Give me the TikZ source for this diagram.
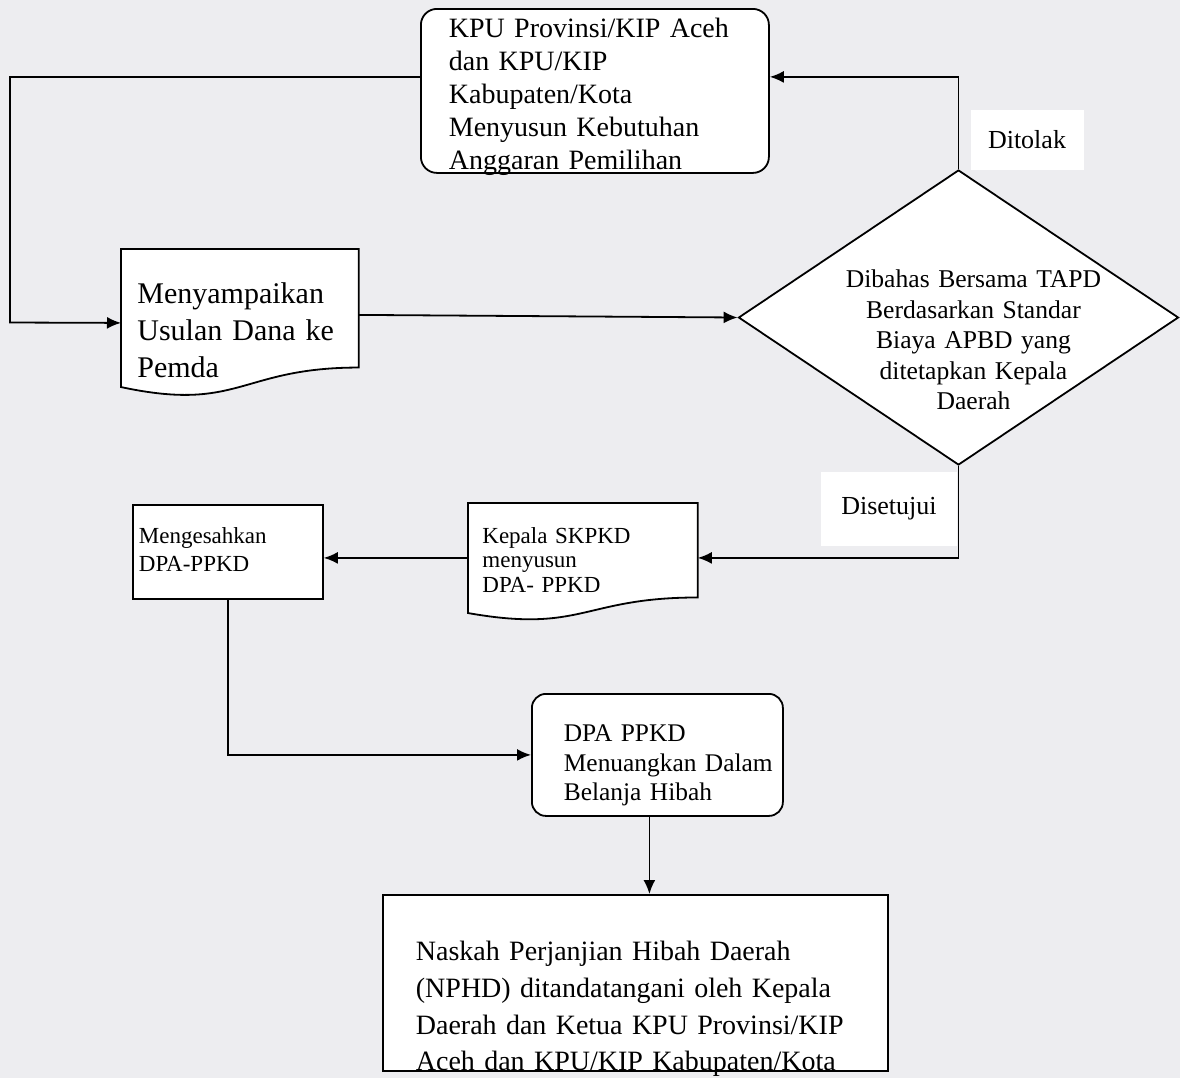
\documentclass[tikz,border=0pt]{standalone}
\usepackage{fontspec}
\setmainfont{Liberation Serif}
\usetikzlibrary{arrows.meta,shapes.geometric,calc,backgrounds}

\definecolor{paper}{RGB}{237,237,240}

% wavy-bottom document outline behind a node
\newcommand{\docoutline}[1]{%
  \begin{scope}[on background layer]
    \draw[line width=0.9pt, fill=white] (#1.north west) -- (#1.north east)
      -- ($(#1.north east)!0.802!(#1.south east)$)
      .. controls ($(#1.north)!0.802!(#1.south)$) and ($(#1.north)!1.107!(#1.south)$)
      .. ($(#1.north west)!0.934!(#1.south west)$) -- cycle;
  \end{scope}}

\begin{document}
\begin{tikzpicture}[
  x=0.5pt, y=-0.5pt,
  box/.style={draw, line width=0.9pt, fill=white, anchor=north west,
              inner sep=0pt, align=left},
  rbox/.style={box, rounded corners=8pt},
  docbox/.style={anchor=north west, inner sep=0pt, align=left},
  decision/.style={draw, line width=0.9pt, fill=white, diamond, shape aspect=1.5,
                   inner sep=0pt, align=center},
  lbl/.style={fill=white, inner sep=0pt, font=\fontsize{13}{15}\selectfont},
  inset/.style={execute at begin node={\leftskip=#1}},
  arrow/.style={-{Latex[length=7pt,width=6pt]}, line width=0.9pt}
]
\begin{scope}[on background layer]
  \fill[paper] (0,0) rectangle (1180,1078);
\end{scope}
\useasboundingbox (0,0) rectangle (1180,1078);

\node[rbox, text width=174pt, text height=14.5pt, text depth=67.5pt, inset=14pt,
      font=\fontsize{14}{16.5}\selectfont] (kpu) at (420,8)
  {KPU Provinsi/KIP Aceh\\dan KPU/KIP\\Kabupaten/Kota\\Menyusun Kebutuhan\\Anggaran Pemilihan};
\node[docbox, text width=118.5pt, text height=27pt, text depth=46.5pt, inset=8pt,
      font=\fontsize{15}{18.5}\selectfont] (usulan) at (121,249)
  {Menyampaikan\\\makebox[107.5pt][s]{Usulan Dana ke}\\Pemda};
\docoutline{usulan}
\node[decision, minimum width=220pt, minimum height=147.5pt, text width=150pt,
      text height=0pt, text depth=30pt,
      execute at begin node={\leftskip=15pt plus 1fil\rightskip=0pt plus 1fil\parfillskip=0pt},
      font=\fontsize{12.8}{15.25}\selectfont]
  (dia) at (958.5,317.5)
  {Dibahas Bersama TAPD\\Berdasarkan Standar\\Biaya APBD yang\\ditetapkan Kepala\\Daerah};
\node[docbox, text width=114.5pt, text height=20pt, text depth=38.5pt, inset=7pt,
      font=\fontsize{11.5}{12.25}\selectfont] (kepala) at (468,503)
  {Kepala SKPKD\\menyusun\\DPA- PPKD};
\docoutline{kepala}
\node[box, text width=95pt, text height=19.5pt, text depth=27.5pt, inset=3pt,
      font=\fontsize{11.5}{14}\selectfont] (sah) at (132,504)
  {Mengesahkan\\DPA-PPKD};
\node[rbox, rounded corners=7pt, text width=125.5pt, text height=24pt, text depth=37pt,
      inset=16pt, font=\fontsize{12.7}{14.75}\selectfont] (belanja) at (531,693)
  {DPA PPKD\\Menuangkan Dalam\\Belanja Hibah};
\node[box, text width=252.5pt, text height=33pt, text depth=55pt, inset=16.5pt,
      font=\fontsize{14}{18.33}\selectfont] (nphd) at (382,894)
  {Naskah Perjanjian Hibah Daerah\\(NPHD) ditandatangani oleh Kepala\\Daerah dan Ketua KPU Provinsi/KIP\\Aceh dan KPU/KIP Kabupaten/Kota};

\node[lbl, minimum width=56.5pt, minimum height=30pt] (tolak) at (1027,140) {Ditolak};
\node[lbl, minimum width=68pt, minimum height=37pt] (setuju) at (889,509) {Disetujui};

\coordinate (lp) at (10,322.5);
\draw[arrow] ([yshift=7pt]kpu.west) -| (lp) -- (usulan.west);
\draw[arrow] ([yshift=4pt]usulan.east) -- (dia.west);
\draw[arrow] (dia.north) |- ([yshift=7pt]kpu.east);
\draw[arrow] (dia.south) |- ([yshift=2pt]kepala.east);
\coordinate (k2s) at ([yshift=2pt]kepala.west);
\draw[arrow] (k2s) -- (k2s -| sah.east);
\draw[arrow] (sah.south) |- (belanja.west);
\coordinate (b2n) at ([xshift=-4pt]belanja.south);
\draw[arrow] (b2n) -- (b2n |- nphd.north);
\end{tikzpicture}
\end{document}
